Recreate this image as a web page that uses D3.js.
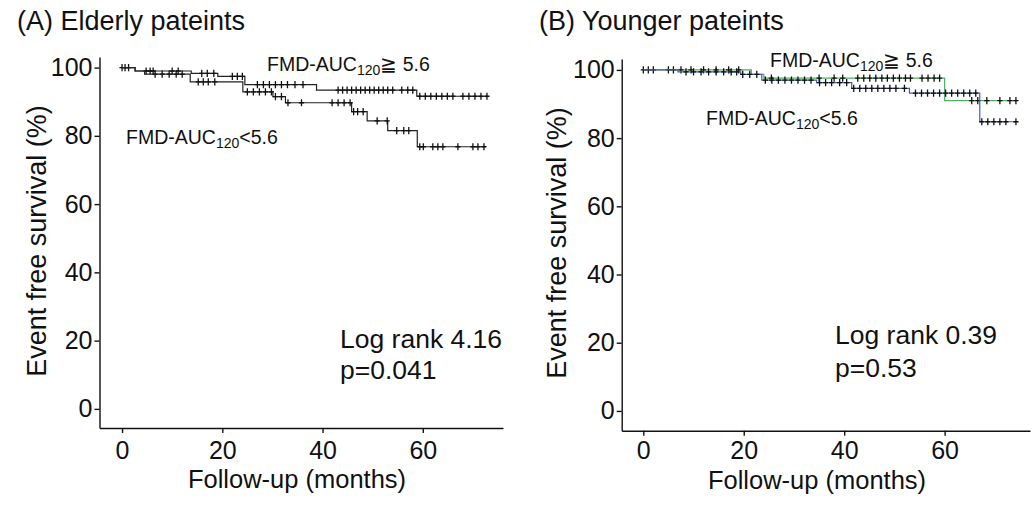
<!DOCTYPE html>
<html>
<head>
<meta charset="utf-8">
<script src="https://cdn.jsdelivr.net/npm/d3@7"></script>
<style>
  body { margin: 0; background: #fff; }
  text { font-family: "Liberation Sans", Arial, sans-serif; fill: #111; }
</style>
</head>
<body>
<svg width="1036" height="505"></svg>
<script>
// Axis ticks
const monthTicks = [0, 20, 40, 60];
const survivalTicks = [0, 20, 40, 60, 80, 100];

// (A) Elderly patients: step points [month, survival %], last point = end of follow-up
const elderlyHighSteps = [[0, 100], [2.6, 99.0], [13.8, 98.3], [19.1, 97.4], [24.5, 95.0], [38.8, 93.4], [58.8, 91.6], [73, 91.6]];
const elderlyLowSteps = [[0, 100], [2.6, 99.0], [4.5, 98.1], [13.6, 95.8], [24.1, 92.9], [30.1, 91.5], [32.6, 89.7], [45.8, 87.1], [48.9, 84.4], [53, 81.5], [58.9, 76.8], [72.4, 76.8]];
// censored months
const elderlyHighCensor = [0, 0.6, 1.3, 4.8, 5.6, 6.2, 10, 11.2, 15.9, 17, 18.3, 22, 23, 24, 27, 28.2, 29.4, 30.6, 31.8, 33, 34.5, 36.1,
  43.1, 44, 44.9, 45.8, 46.7, 47.6, 48.5, 49.4, 50.3, 51.2, 52.1, 53, 54, 55.8, 57, 58,
  59.4, 60.5, 61.6, 62.7, 63.8, 64.9, 66, 68, 69.2, 70.4, 71.6, 72.8];
const elderlyLowCensor = [6.6, 8, 9.4, 10.8, 12, 15.2, 16.2, 17.2, 18.5, 25, 26.2, 27.4, 28.6, 29.8, 30.6, 31.8, 33.1, 35.8,
  41.9, 43.1, 44.3, 45.5, 46.2, 47, 48.1, 50.9, 52.9, 54.8, 56.2, 57.2, 59.4, 60.1, 62, 63, 64, 67, 70, 71, 72.2];

// (B) Younger patients
const youngHighSteps = [[0, 100], [21.5, 98.7], [24, 97.6], [60, 91.0], [74.3, 91.0]];
const youngLowSteps = [[0, 100], [6.9, 99.4], [19.4, 98.7], [23.6, 97.0], [34.5, 96.3], [41.5, 94.6], [53, 93.2], [67, 84.8], [74.3, 84.8]];
const youngHighCensor = [0, 1, 2, 5, 6, 7.5, 9.5, 12, 14.5, 17, 19, 25.5, 35, 38, 39.7, 42.7, 43.9, 45.1, 46.3, 47.5, 48.6, 49.8,
  51, 52.2, 53.2, 55.5, 56.7, 57.9, 59, 65.4, 66.6, 68.4, 71, 73, 74.2];
const youngLowCensor = [8.5, 10, 11.5, 13, 14.5, 16, 17.5, 18.6, 19.8, 21.2, 22.6, 24.3, 25.6, 26.9, 28.2, 29.5, 30.8, 32.1, 33.4,
  35.1, 36.3, 37.5, 39.1, 40.5, 41.9, 43.1, 44.3, 45.5, 46.7, 47.9, 49.1, 50.3, 52, 54.2, 55.4, 56.6, 57.8, 59, 60.2, 61.4,
  62.6, 63.8, 65, 66.2, 67.4, 68.6, 69.8, 71, 72.2, 74.2];

const svg = d3.select("svg");

function survivalAt(steps, t) {
  let v = steps[0][1];
  steps.forEach((s) => { if (s[0] <= t) v = s[1]; });
  return v;
}

function addLabel(parent, x, y, op, size) {
  // "FMD-AUC" + subscript 120 + comparison + 5.6
  const t = parent.append("text").attr("x", x).attr("y", y).attr("font-size", size);
  t.append("tspan").text("FMD-AUC");
  t.append("tspan").attr("dy", 4).attr("font-size", size * 0.72).text("120");
  t.append("tspan").attr("dy", -4).text(op);
}

function drawPanel(p) {
  const x = d3.scaleLinear().domain(p.xDomain).range(p.xRange);
  const y = d3.scaleLinear().domain(p.yDomain).range(p.yRange);
  const g = svg.append("g");

  const xAxis = g.append("g")
    .attr("transform", `translate(0,${p.yRange[0]})`)
    .call(d3.axisBottom(x).tickValues(monthTicks).tickSize(5).tickSizeOuter(0).tickPadding(p.xPad));
  const yAxis = g.append("g")
    .attr("transform", `translate(${p.xRange[0]},0)`)
    .call(d3.axisLeft(y).tickValues(survivalTicks).tickSize(5).tickSizeOuter(0).tickPadding(2));
  [xAxis, yAxis].forEach((a) => {
    a.attr("font-size", 25).attr("font-family", null);
    a.selectAll("path, line").attr("stroke", "#111").attr("stroke-width", 1.4);
    a.selectAll("text").attr("fill", "#111");
  });

  const line = d3.line().x((d) => x(d[0])).y((d) => y(d[1])).curve(d3.curveStepAfter);
  p.groups.forEach((grp) => {
    g.append("path")
      .datum(grp.steps)
      .attr("d", line)
      .attr("fill", "none")
      .attr("stroke", grp.color)
      .attr("stroke-width", 1.2);
    g.append("g")
      .selectAll("path")
      .data(grp.censor)
      .enter()
      .append("path")
      .attr("d", (t) => {
        const px = x(t), py = y(survivalAt(grp.steps, t));
        return `M${px - 2.6},${py}H${px + 2.6}M${px},${py - 3.6}V${py + 3.6}`;
      })
      .attr("stroke", "#111")
      .attr("stroke-width", 1.3);
  });

  g.append("text").attr("x", p.title[0]).attr("y", p.title[1]).attr("font-size", 27).text(p.title[2]);
  g.append("text")
    .attr("transform", `translate(${p.yLabel[0]},${p.yLabel[1]}) rotate(-90)`)
    .attr("text-anchor", "middle")
    .attr("font-size", 27)
    .text("Event free survival (%)");
  g.append("text")
    .attr("x", p.xLabel[0]).attr("y", p.xLabel[1])
    .attr("text-anchor", "middle")
    .attr("font-size", 25.5)
    .text("Follow-up (months)");

  addLabel(g, p.highLabel[0], p.highLabel[1], "\u2267 5.6", 19.5);
  addLabel(g, p.lowLabel[0], p.lowLabel[1], "<5.6", 19.5);

  g.append("text").attr("x", p.stats[0]).attr("y", p.stats[1]).attr("font-size", 26.5).text(p.stats[3]);
  g.append("text").attr("x", p.stats[0]).attr("y", p.stats[2]).attr("font-size", 26.5).text(p.stats[4]);
}

drawPanel({
  xDomain: [-4.5, 76], xRange: [99.5, 503],
  yDomain: [-5.6, 103.1], yRange: [428, 57],
  xPad: 8,
  groups: [
    { steps: elderlyHighSteps, censor: elderlyHighCensor, color: "#222" },
    { steps: elderlyLowSteps, censor: elderlyLowCensor, color: "#222" },
  ],
  title: [17, 30, "(A) Elderly pateints"],
  yLabel: [46, 241],
  xLabel: [297, 488],
  highLabel: [267, 71],
  lowLabel: [126, 144],
  stats: [340, 348, 379, "Log rank 4.16", "p=0.041"],
});

drawPanel({
  xDomain: [-4.3, 77], xRange: [621.7, 1030],
  yDomain: [-5.8, 103.2], yRange: [430.7, 59],
  xPad: 6,
  groups: [
    { steps: youngHighSteps, censor: youngHighCensor, color: "#4caf64" },
    { steps: youngLowSteps, censor: youngLowCensor, color: "#4a5ca6" },
  ],
  title: [539, 30, "(B) Younger pateints"],
  yLabel: [566, 243],
  xLabel: [817, 489],
  highLabel: [770, 67],
  lowLabel: [706, 125],
  stats: [835, 344, 377, "Log rank 0.39", "p=0.53"],
});
</script>
</body>
</html>
